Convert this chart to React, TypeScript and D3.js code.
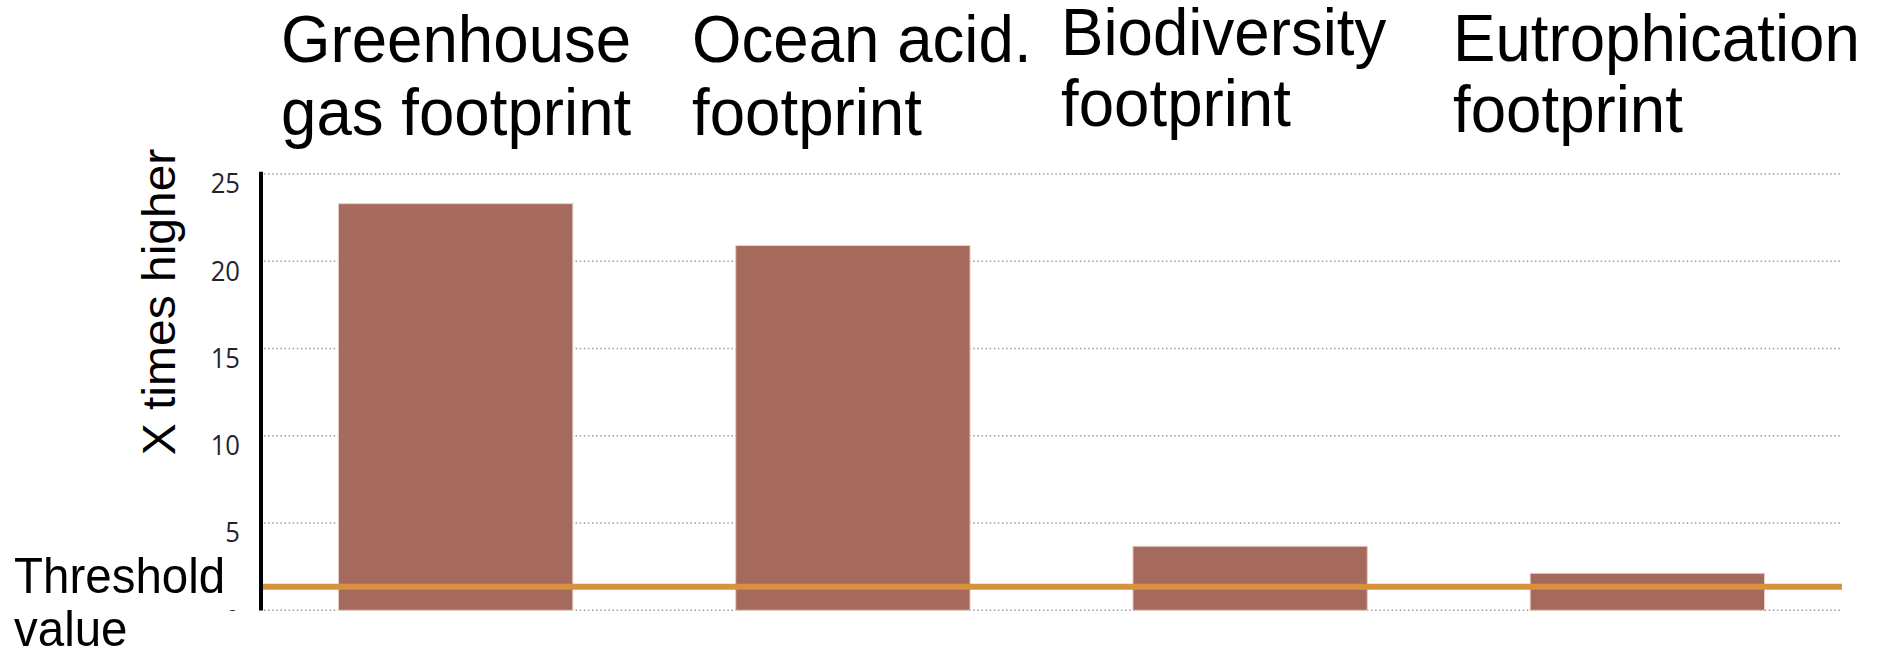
import React from "react";
import * as d3 from "d3";

const categories = ["GHG", "OA", "BIO", "EUT"];
const categoryLines = [
  ["Greenhouse", "gas footprint"],
  ["Ocean acid.", "footprint"],
  ["Biodiversity", "footprint"],
  ["Eutrophication", "footprint"],
];
const values = [23.3, 20.9, 3.67, 2.12];
const thresholdValue = 1.35;
const yTicks = [0, 5, 10, 15, 20, 25];
const yTitle = "X times higher";
const thresholdLines = ["Threshold", "value"];

const W = 1878;
const H = 653;
const axisX = 261;
const plotRight = 1842;
const y0 = 610.3;
const y25 = 174;
const SX = 0.95;

export default function App() {
  const x = d3
    .scaleBand<string>()
    .domain(categories)
    .range([axisX, plotRight])
    .paddingInner(0.41)
    .paddingOuter(0.195);
  const y = d3.scaleLinear().domain([0, 25]).range([y0, y25]);

  const labelPos = [
    { x: 281, y1: 62, y2: 135 },
    { x: 692, y1: 62, y2: 135 },
    { x: 1061, y1: 55, y2: 126 },
    { x: 1453, y1: 61, y2: 132 },
  ];

  return (
    <svg
      width={W}
      height={H}
      style={{ position: "absolute", left: 0, top: 0, background: "#fff" }}
      fontFamily="'Liberation Sans', Arial, sans-serif"
    >
      <defs>
        <clipPath id="plotclip">
          <rect x={0} y={0} width={W} height={611} />
        </clipPath>
      </defs>
      <rect x={0} y={0} width={W} height={H} fill="#fff" />
      {/* gridlines */}
      {yTicks.map((t) => (
        <line
          key={"g" + t}
          x1={axisX + 3}
          x2={plotRight}
          y1={y(t)}
          y2={y(t)}
          stroke="#9a9a9a"
          strokeWidth={1.4}
          strokeDasharray="1.5 2.6"
        />
      ))}
      {/* bars */}
      {categories.map((c, i) => (
        <rect
          key={c}
          x={x(c)}
          y={y(values[i])}
          width={x.bandwidth()}
          height={y(0) - y(values[i])}
          fill="#A66A5C"
          stroke="#e6cfca"
          strokeWidth={1}
        />
      ))}
      {/* threshold line */}
      <line
        x1={axisX + 2}
        x2={plotRight}
        y1={y(thresholdValue)}
        y2={y(thresholdValue)}
        stroke="#D8913D"
        strokeWidth={6}
      />
      {/* y axis line */}
      <line x1={axisX} x2={axisX} y1={171.7} y2={610.5} stroke="#000" strokeWidth={4} />
      {/* tick labels */}
      <g clipPath="url(#plotclip)">
        {yTicks.map((t) => (
          <g key={"t" + t} transform={`translate(240, ${y(t) + 9}) scale(${SX}, 1)`}>
            <text
              x={0}
              y={0}
              textAnchor="end"
              dominantBaseline="central"
              fontFamily="'Open Sans', sans-serif"
              fontSize={27}
              fill="#1f2430"
            >
              {t}
            </text>
          </g>
        ))}
      </g>
      {/* y title */}
      <g transform={`translate(175, 302) scale(${SX}, 1) rotate(-90)`}>
        <text textAnchor="middle" fontSize={48} fill="#000">
          {yTitle}
        </text>
      </g>
      {/* category labels */}
      {categoryLines.map((lines, i) => (
        <g key={"c" + i} transform={`translate(${labelPos[i].x}, 0) scale(${SX}, 1)`}>
          <text fontSize={67} fill="#000">
            <tspan x={0} y={labelPos[i].y1}>
              {lines[0]}
            </tspan>
            <tspan x={0} y={labelPos[i].y2}>
              {lines[1]}
            </tspan>
          </text>
        </g>
      ))}
      {/* threshold label */}
      <g transform={`translate(14, 0) scale(${SX}, 1)`}>
        <text fontSize={50} fill="#000">
          <tspan x={0} y={593}>
            {thresholdLines[0]}
          </tspan>
          <tspan x={0} y={646}>
            {thresholdLines[1]}
          </tspan>
        </text>
      </g>
    </svg>
  );
}
